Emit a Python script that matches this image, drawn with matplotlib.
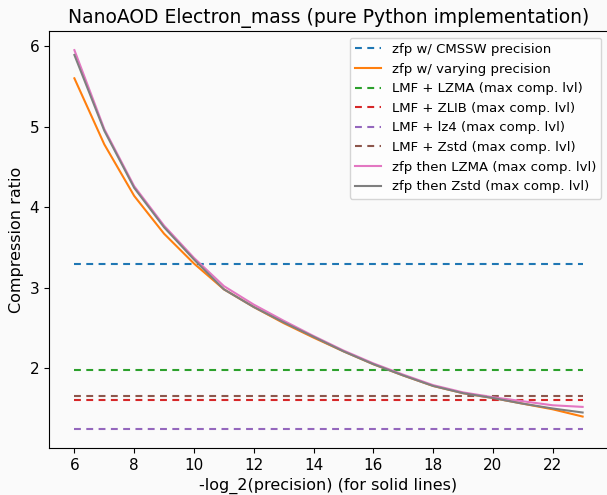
import matplotlib
matplotlib.use("Agg")
import matplotlib.pyplot as plt
import numpy as np

# precision bits for the solid (zfp) curves
bits = np.arange(6, 24)

# compression ratios
zfp_varying = [5.60, 4.78, 4.14, 3.67, 3.30, 2.98, 2.76, 2.56, 2.38, 2.21, 2.05, 1.91, 1.78, 1.69, 1.63, 1.56, 1.49, 1.40]
zfp_lzma = [5.95, 4.97, 4.26, 3.77, 3.37, 3.02, 2.79, 2.59, 2.40, 2.22, 2.06, 1.92, 1.79, 1.70, 1.64, 1.59, 1.54, 1.52]
zfp_zstd = [5.89, 4.95, 4.24, 3.75, 3.35, 2.98, 2.76, 2.57, 2.39, 2.21, 2.05, 1.91, 1.78, 1.69, 1.63, 1.56, 1.50, 1.45]

# constant ratios (dashed)
cmssw = 3.30
lmf_lzma = 1.98
lmf_zlib = 1.61
lmf_lz4 = 1.245
lmf_zstd = 1.655

dash = (3.3, 2.6)

fig = plt.figure(figsize=(6.07, 4.95), dpi=100, facecolor="#fafafa")
ax = fig.add_axes([0.0807, 0.095, 0.921, 0.842], facecolor="#fafafa")

x0, x1 = bits[0], bits[-1]
ax.plot([x0, x1], [cmssw, cmssw], "--", dashes=dash, color="C0", label="zfp w/ CMSSW precision")
ax.plot(bits, zfp_varying, color="C1", label="zfp w/ varying precision")
ax.plot([x0, x1], [lmf_lzma, lmf_lzma], "--", dashes=dash, color="C2", label="LMF + LZMA (max comp. lvl)")
ax.plot([x0, x1], [lmf_zlib, lmf_zlib], "--", dashes=dash, color="C3", label="LMF + ZLIB (max comp. lvl)")
ax.plot([x0, x1], [lmf_lz4, lmf_lz4], "--", dashes=dash, color="C4", label="LMF + lz4 (max comp. lvl)")
ax.plot([x0, x1], [lmf_zstd, lmf_zstd], "--", dashes=dash, color="C5", label="LMF + Zstd (max comp. lvl)")
ax.plot(bits, zfp_lzma, color="C6", label="zfp then LZMA (max comp. lvl)")
ax.plot(bits, zfp_zstd, color="C7", label="zfp then Zstd (max comp. lvl)")

ax.set_xticks(range(6, 24, 2))
ax.tick_params(labelsize=11)
ax.set_xlabel("-log_2(precision) (for solid lines)", fontsize=11.5)
ax.set_ylabel("Compression ratio", fontsize=11.5)
ax.set_title("NanoAOD Electron_mass (pure Python implementation)", fontsize=13.5)
ax.legend(loc="upper right", fontsize=9.5)

fig.savefig("out.png", dpi=100, facecolor=fig.get_facecolor())
